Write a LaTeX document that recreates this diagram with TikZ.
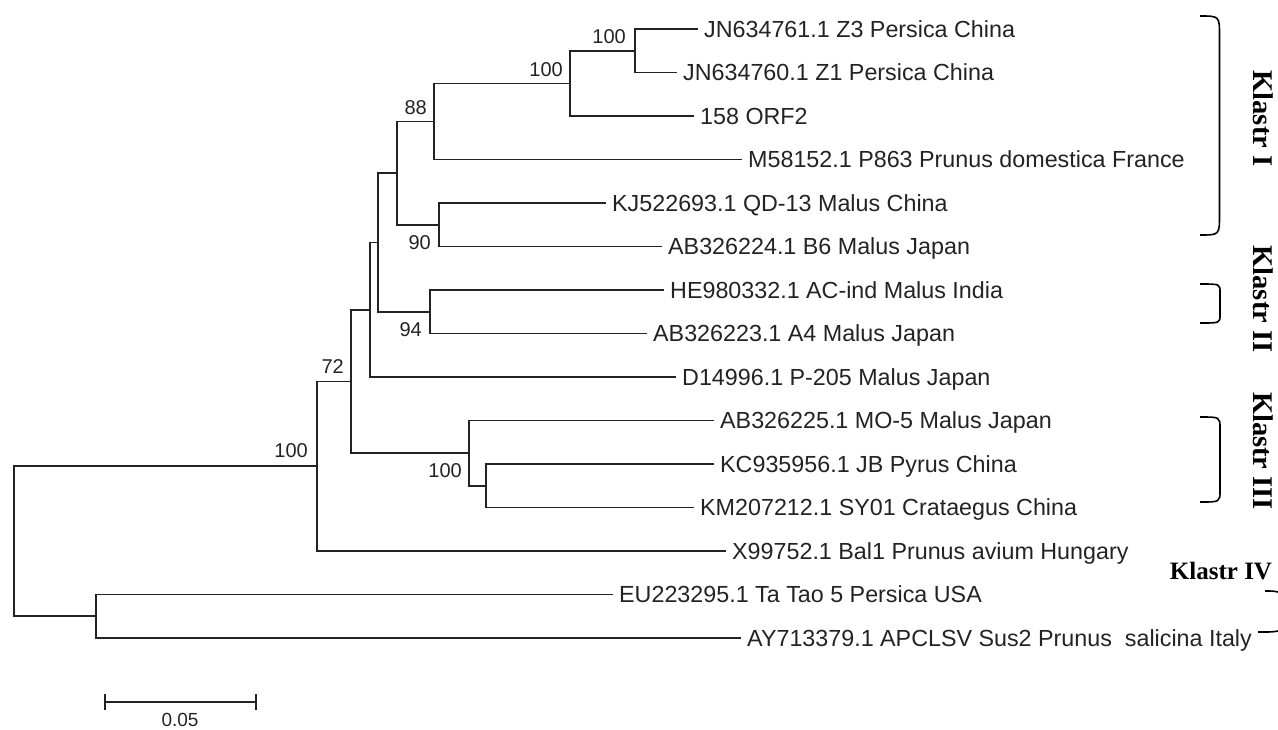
\documentclass[tikz,border=0pt]{standalone}
\usepackage{fontspec}
\setmainfont{Liberation Sans}
\newfontfamily\klastrfont{Liberation Serif}
\usepackage{tikz}
\usetikzlibrary{positioning,calc}
\definecolor{treegray}{RGB}{35, 35, 35}

\begin{document}
\begin{tikzpicture}[
    x=1pt, y=-1pt,
    leaf/.style={anchor=west, inner xsep=6pt, inner ysep=0pt, text height=16.7pt, text depth=0pt, text=treegray, font=\fontsize{23.3}{26}\selectfont},
    boot/.style={inner sep=0pt, text=treegray, font=\fontsize{20}{22}\selectfont},
    branch/.style={line width=1.8pt, treegray},
    bracket/.style={line width=1.6pt, black},
    klastr/.style={font=\klastrfont\bfseries\fontsize{28.5}{30}\selectfont, rotate=-90},
]
\useasboundingbox (0,0) rectangle (1278,729);

% taxa
\node[leaf] (l1) at (698,29) {JN634761.1 Z3 Persica China};
\node[leaf] (l2) at (677,72.5) {JN634760.1 Z1 Persica China};
\node[leaf] (l3) at (694,116) {158 ORF2};
\node[leaf] (l4) at (742,159.5) {M58152.1 P863 Prunus domestica France};
\node[leaf] (l5) at (606,203) {KJ522693.1 QD-13 Malus China};
\node[leaf] (l6) at (662,246.5) {AB326224.1 B6 Malus Japan};
\node[leaf] (l7) at (664,290) {HE980332.1 AC-ind Malus India};
\node[leaf] (l8) at (647,333.5) {AB326223.1 A4 Malus Japan};
\node[leaf] (l9) at (676,377) {D14996.1 P-205 Malus Japan};
\node[leaf] (l10) at (714,420.5) {AB326225.1 MO-5 Malus Japan};
\node[leaf] (l11) at (714,464) {KC935956.1 JB Pyrus China};
\node[leaf] (l12) at (694,507.5) {KM207212.1 SY01 Crataegus China};
\node[leaf] (l13) at (726,551) {X99752.1 Bal1 Prunus avium Hungary};
\node[leaf] (l14) at (613,594.5) {EU223295.1 Ta Tao 5 Persica USA};
\node[leaf] (l15) at (741,638) {AY713379.1 APCLSV Sus2 Prunus\ \ salicina Italy};

% internal nodes
\coordinate (a) at (635,50.75);
\coordinate (b) at (570,83.4);
\coordinate (c) at (434,121.5);
\coordinate (d) at (439,224.75);
\coordinate (e) at (397,173.1);
\coordinate (f) at (430,311.75);
\coordinate (g) at (378,242.4);
\coordinate (h) at (370,309.7);
\coordinate (i) at (486,485.75);
\coordinate (j) at (469,453.1);
\coordinate (k) at (351,381.4);
\coordinate (m) at (317,466.2);
\coordinate (n) at (96,616.25);
\coordinate (root) at (14,541.2);

% branches
\draw[branch] (l1.west) -| (a) |- (l2.west);
\draw[branch] (a) -| (b) |- (l3.west);
\draw[branch] (b) -| (c) |- (l4.west);
\draw[branch] (l5.west) -| (d) |- (l6.west);
\draw[branch] (c) -| (e) |- (d);
\draw[branch] (l7.west) -| (f) |- (l8.west);
\draw[branch] (e) -| (g) |- (f);
\draw[branch] (g) -| (h) |- (l9.west);
\draw[branch] (l11.west) -| (i) |- (l12.west);
\draw[branch] (l10.west) -| (j) |- (i);
\draw[branch] (h) -| (k) |- (j);
\draw[branch] (k) -| (m) |- (l13.west);
\draw[branch] (l14.west) -| (n) |- (l15.west);
\draw[branch] (m) -| (root) |- (n);

% bootstrap values
\node[boot, above left=7pt and 9pt of a] (ba) {100};
\node[boot, above left=7pt and 7pt of b] (bb) {100};
\node[boot, above left=7pt and 7pt of c] (bc) {88};
\node[boot, below left=11pt and 8pt of d] (bd) {90};
\node[boot, below left=11pt and 8pt of f] (bf) {94};
\node[boot, above left=8pt and 7pt of k] (bk) {72};
\node[boot, above left=8pt and 9pt of m] (bm) {100};
\node[boot, below left=10pt and 7pt of j] (bj) {100};

% scale bar
\coordinate (sb1) at (105,702);
\coordinate (sb2) at (256,702);
\draw[branch] (sb1) -- (sb2);
\draw[branch] ([yshift=8pt]sb1) -- ([yshift=-8pt]sb1);
\draw[branch] ([yshift=8pt]sb2) -- ([yshift=-8pt]sb2);
\node[boot, font=\fontsize{19}{21}\selectfont] (sblabel) at (180,720) {0.05};

% clusters
\draw[bracket] (1200,16) .. controls (1219.5,16) .. (1219.5,36) -- (1219.5,215) .. controls (1219.5,235) .. (1200,235);
\draw[bracket] (1200,284) .. controls (1220,284) .. (1220,292) -- (1220,315) .. controls (1220,323) .. (1200,323);
\draw[bracket] (1200,417) .. controls (1220,417) .. (1220,428) -- (1220,491) .. controls (1220,502) .. (1200,502);
\draw[bracket] (1265,591) .. controls (1273,591) .. (1278,592);
\draw[bracket] (1258,632) .. controls (1272,632) .. (1278,631);
\node[klastr] (k1) at (1263,118.5) {Klastr I};
\node[klastr] (k2) at (1263,299) {Klastr II};
\node[klastr] (k3) at (1263,451) {Klastr III};
\node[klastr, rotate=90, font=\klastrfont\bfseries\fontsize{25}{27}\selectfont] (k4) at (1221,571) {Klastr IV};
\end{tikzpicture}
\end{document}
